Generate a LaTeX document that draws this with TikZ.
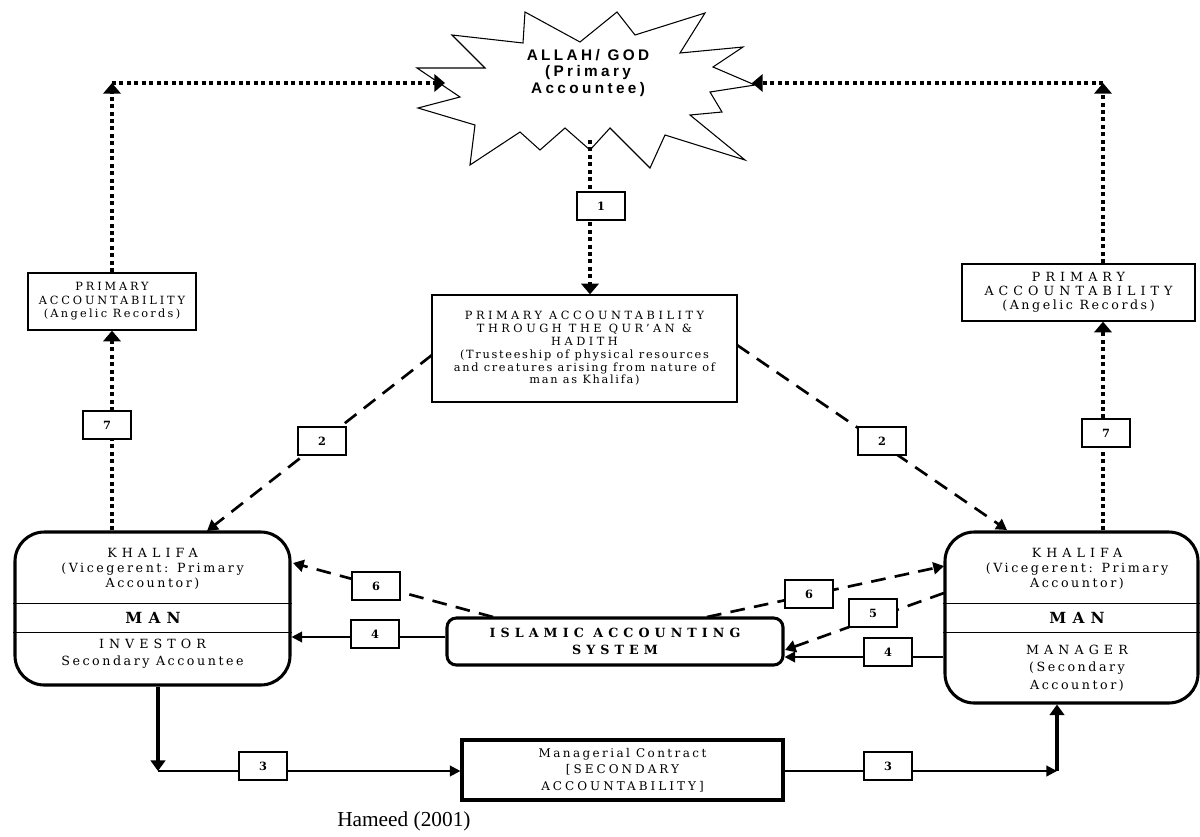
\documentclass[tikz,border=0pt]{standalone}
\usepackage{fontspec}
\setmainfont{DejaVu Serif}
\newfontfamily\capf[LetterSpace=40]{DejaVu Serif}
\newfontfamily\capg[LetterSpace=25]{DejaVu Serif}
\newfontfamily\caph[LetterSpace=31]{DejaVu Serif}
\newfontfamily\mixf[LetterSpace=20]{DejaVu Serif}
\newfontfamily\ctrmix[LetterSpace=15]{DejaVu Serif}
\newfontfamily\boldcap[LetterSpace=40]{DejaVu Serif Bold}
\newfontfamily\lblf{DejaVu Serif Bold}
\newfontfamily\godf[LetterSpace=22]{Liberation Sans Bold}
\newfontfamily\reff{Liberation Serif}
\usetikzlibrary{arrows.meta}
\newcommand\pxu{0.75pt}
\begin{document}
\begin{tikzpicture}[x=0.75pt,y=-0.75pt,
  box/.style={draw, line width=1pt, fill=white, align=center, inner sep=0pt},
  kbox/.style={draw, line width=2.3pt, rounded corners=22pt, fill=white, inner sep=0pt},
  ktext/.style={align=center, inner sep=0pt},
  lbl/.style={draw, line width=0.9pt, fill=white, minimum width=36pt, minimum height=21pt, inner sep=0pt, font={\lblf\fontsize{8.5}{8.5}\selectfont}},
  dotarr/.style={line width=3.3pt, dash pattern=on 3pt off 2.6pt, -{Triangle[width=13pt,length=8pt]}},
  dasharr/.style={line width=2pt, dash pattern=on 11pt off 7pt, -{Triangle[width=9pt,length=8pt]}},
  solarr/.style={line width=1.6pt, -{Triangle[width=8pt,length=8pt]}},
  thkarr/.style={line width=3.5pt, -{Triangle[width=11pt,length=8pt]}}
]
\path[use as bounding box, fill=white] (0,0) rectangle (1200,836);

% star
\draw[line width=0.8pt, fill=white] (525,12) -- (580,42) -- (617,12) -- (635,35) -- (705,13) -- (680,53)
  -- (743,47) -- (713,67) -- (755,85) -- (710,92) -- (722,112) -- (690,115) -- (745,160) -- (665,135)
  -- (650,168) -- (610,128) -- (590,150) -- (565,128) -- (540,150) -- (520,132) -- (470,165) -- (475,125)
  -- (418,108) -- (460,97) -- (417,68) -- (485,68) -- (452,35) -- (523,43) -- cycle;
\node[align=center, inner sep=0pt, font={\godf\fontsize{11.5}{12.6}\selectfont}] (god) at (588,73)
  {ALLAH/ GOD\\(Primary\\Accountee)};
\coordinate (starL) at (445,83);
\coordinate (starR) at (752,83);
\coordinate (starB) at (590,140);
\coordinate (tL) at (112,83);
\coordinate (tR) at (1103,83);

% boxes
\node[box, minimum width=168*\pxu, minimum height=57*\pxu, font={\fontsize{8.5}{10.2}\selectfont}] (paL) at (112,301.5)
  {\capg PRIMARY\\\capg ACCOUNTABILITY\\\mixf(Angelic Records)};
\node[box, minimum width=233*\pxu, minimum height=57*\pxu, font={\fontsize{9.5}{10.4}\selectfont}] (paR) at (1078.5,292.5)
  {\capf PRIMARY\\\capf ACCOUNTABILITY\\\mixf(Angelic Records)};
\node[box, minimum width=305*\pxu, minimum height=107*\pxu, font={\fontsize{8.5}{9.6}\selectfont}] (paC) at (584.5,348.5)
  {\caph PRIMARY ACCOUNTABILITY\\\caph THROUGH THE QUR’AN \&\\\caph HADITH\\
   \ctrmix(Trusteeship of physical resources\\\ctrmix and creatures arising from nature of\\\ctrmix man as Khalifa)};

% Khalifa boxes
\node[kbox, minimum width=275*\pxu, minimum height=153*\pxu] (kL) at (152.5,608.5) {};
\draw[line width=0.6pt] (kL.west |- 0,603) -- (kL.east |- 0,603);
\draw[line width=0.6pt] (kL.west |- 0,632) -- (kL.east |- 0,632);
\node[ktext, font={\fontsize{9.5}{11}\selectfont}] (kLt) at (152.5,569)
  {\capf KHALIFA\\\mixf(Vicegerent: Primary\\\mixf Accountor)};
\node[ktext, font={\boldcap\fontsize{11.5}{11.5}\selectfont}] (kLm) at (153,617.5) {MAN};
\node[ktext, font={\fontsize{9.5}{13}\selectfont}] (kLb) at (152.5,654)
  {\capf INVESTOR\\\mixf Secondary Accountee};

\node[kbox, minimum width=253*\pxu, minimum height=171*\pxu] (kR) at (1071.5,617.5) {};
\draw[line width=0.6pt] (kR.west |- 0,603) -- (kR.east |- 0,603);
\draw[line width=0.6pt] (kR.west |- 0,632) -- (kR.east |- 0,632);
\node[ktext, font={\fontsize{9.5}{11}\selectfont}] (kRt) at (1077,569)
  {\capf KHALIFA\\\mixf(Vicegerent: Primary\\\mixf Accountor)};
\node[ktext, font={\boldcap\fontsize{11.5}{11.5}\selectfont}] (kRm) at (1077,617.5) {MAN};
\node[ktext, font={\fontsize{9.5}{13}\selectfont}] (kRb) at (1077,668)
  {\capf MANAGER\\\mixf(Secondary\\\mixf Accountor)};

% Islamic accounting system
\node[box, line width=2.3pt, rounded corners=7pt, minimum width=336*\pxu, minimum height=47*\pxu,
  font={\fontsize{9.5}{12.5}\selectfont}] (ias) at (615,641.5) {\boldcap ISLAMIC ACCOUNTING\\\boldcap SYSTEM};

% Managerial contract
\node[box, line width=2.3pt, minimum width=321*\pxu, minimum height=60*\pxu,
  font={\fontsize{9}{12.5}\selectfont}] (mc) at (622.5,770)
  {\mixf Managerial Contract\\\capg[SECONDARY\\\capg ACCOUNTABILITY]};

% dotted connectors
\draw[dotarr] (starB) -- (paC.north -| starB);
\draw[dotarr] (kL.north -| paL) -- (paL.south);
\draw[dotarr] (paL.north) -- (tL);
\draw[dotarr] (tL) -- (starL);
\draw[dotarr] (kR.north -| tR) -- (paR.south -| tR);
\draw[dotarr] (paR.north -| tR) -- (tR);
\draw[dotarr] (tR) -- (starR);

% dashed connectors
\coordinate (s2L) at (432,355);
\coordinate (e2L) at (207,531);
\coordinate (s2R) at (737,345);
\coordinate (e2R) at (1007,530);
\draw[dasharr] (s2L) -- (e2L);
\draw[dasharr] (s2R) -- (e2R);
\coordinate (s6L) at (493,617);
\coordinate (e6L) at (293,563);
\coordinate (s6R) at (707,617);
\coordinate (e6R) at (944,566);
\draw[dasharr] (s6L) -- (e6L);
\draw[dasharr] (s6R) -- (e6R);
\coordinate (s5) at (944,593);
\coordinate (e5) at (785,650);
\draw[dasharr] (s5) -- (e5);

% solid connectors 4
\draw[solarr] (ias.west |- 0,637) -- (kL.east |- 0,637);
\draw[solarr] (kR.west |- 0,657) -- (ias.east |- 0,657);

% connectors 3
\coordinate (cL) at (158,771);
\coordinate (cR) at (1057,771);
\draw[thkarr] (kL.south -| cL) -- (cL);
\draw[solarr] (cL) -- (mc.west |- cL);
\draw[solarr] (mc.east |- cR) -- (cR);
\draw[thkarr] (cR) -- (kR.south -| cR);

% labels
\node[lbl] (n1) at (601,206) {1};
\node[lbl] (n7L) at (107,425) {7};
\node[lbl] (n7R) at (1106,433) {7};
\node[lbl] (n2L) at (322,441) {2};
\node[lbl] (n2R) at (882,441) {2};
\node[lbl] (n6L) at (376,586) {6};
\node[lbl] (n6R) at (809,594) {6};
\node[lbl] (n5) at (873,613) {5};
\node[lbl] (n4L) at (375,634) {4};
\node[lbl] (n4R) at (888,652) {4};
\node[lbl] (n3L) at (263,766) {3};
\node[lbl] (n3R) at (888,766) {3};

\node[anchor=west, inner sep=0pt, font={\reff\fontsize{16}{16}\selectfont}] (src) at (337,821) {Hameed (2001)};
\end{tikzpicture}
\end{document}
